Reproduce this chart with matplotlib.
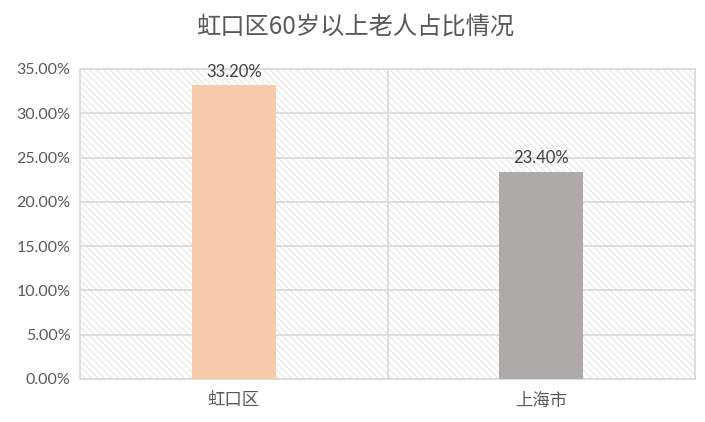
import matplotlib.pyplot as plt
from matplotlib.patches import Rectangle

plt.rcParams['font.family'] = ['Lato', 'Noto Sans CJK SC', 'DejaVu Sans']
plt.rcParams['hatch.linewidth'] = 0.6

# data
categories = ['虹口区', '上海市']
values = [33.20, 23.40]
colors = ['#F8CBAD', '#AEAAAA']
yticks = [0, 5, 10, 15, 20, 25, 30, 35]

fig = plt.figure(figsize=(7.05, 4.22), dpi=100)
ax = fig.add_axes([80 / 705, 1 - 379 / 422, 615 / 705, 310 / 422])

# hatched plot area background
bg = Rectangle((0, 0), 1, 1, transform=ax.transAxes, facecolor='white',
               edgecolor='#DDDDDD', hatch='\\\\\\\\\\', linewidth=0, zorder=0)
ax.add_patch(bg)

x = range(len(categories))
ax.bar(x, values, width=0.273, color=colors, zorder=3)

for i, v in enumerate(values):
    ax.text(i, v + 0.6, f'{v:.2f}%', ha='center', va='bottom',
            fontsize=12, color='#404040', zorder=4)

ax.set_xlim(-0.5, 1.5)
ax.set_ylim(0, 35)
ax.set_yticks(yticks)
ax.set_yticklabels([f'{t:.2f}%' for t in yticks], fontsize=11.5, color='#595959')
ax.set_xticks(list(x))
ax.set_xticklabels(categories, fontsize=12.5, color='#595959', family=['Noto Sans CJK SC'])
ax.tick_params(length=0)
ax.tick_params(axis='x', pad=9)
ax.tick_params(axis='y', pad=7)

ax.grid(axis='y', color='#D9D9D9', linewidth=1.2, zorder=1)
ax.axvline(0.5, color='#D9D9D9', linewidth=1.2, zorder=1)
for s in ax.spines.values():
    s.set_color('#D9D9D9')
    s.set_linewidth(1.2)
ax.set_axisbelow(True)

fig.text(356 / 705, 1 - 27 / 422, '虹口区60岁以上老人占比情况', ha='center', va='center',
         fontsize=17.5, color='#595959', family=['Noto Sans CJK SC'])

fig.savefig('out.png', dpi=100)
